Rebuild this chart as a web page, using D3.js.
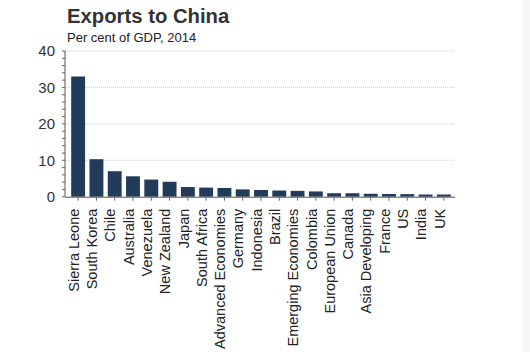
<!DOCTYPE html>
<html>
<head>
<meta charset="utf-8">
<script src="https://cdn.jsdelivr.net/npm/d3@7"></script>
<style>
  body { margin: 0; background: #fff; }
  svg { font-family: "Liberation Sans", Arial, sans-serif; }
</style>
</head>
<body>
<script>
const countries = ["Sierra Leone", "South Korea", "Chile", "Australia", "Venezuela", "New Zealand",
  "Japan", "South Africa", "Advanced Economies", "Germany", "Indonesia", "Brazil",
  "Emerging Economies", "Colombia", "European Union", "Canada", "Asia Developing",
  "France", "US", "India", "UK"];
const exportsPct = [33.0, 10.3, 7.0, 5.6, 4.7, 4.1, 2.65, 2.5, 2.4, 2.0, 1.85, 1.7,
  1.6, 1.45, 0.95, 0.95, 0.8, 0.75, 0.7, 0.6, 0.6];
const yTicks = [0, 10, 20, 30, 40];

const width = 530, height = 352;
const margin = { left: 65, top: 51, right: 75, bottom: 155 };

const svg = d3.select("body").append("svg")
  .attr("width", width)
  .attr("height", height);

// Light strip on the right edge
svg.append("rect")
  .attr("x", 523).attr("y", 0)
  .attr("width", 7).attr("height", height)
  .attr("fill", "#f6f6f6");

// Title and subtitle
svg.append("text")
  .attr("x", 67).attr("y", 23)
  .attr("font-size", 20.3).attr("font-weight", "bold")
  .attr("fill", "#333")
  .text("Exports to China");
svg.append("text")
  .attr("x", 67).attr("y", 42)
  .attr("font-size", 13)
  .attr("fill", "#222")
  .text("Per cent of GDP, 2014");

const x = d3.scaleBand()
  .domain(countries)
  .range([69, 453])
  .paddingInner(0.24)
  .paddingOuter(0.12);

const y = d3.scaleLinear()
  .domain([0, 40])
  .range([height - margin.bottom - 0.3, margin.top]);

// Dotted grid lines
svg.append("g")
  .selectAll("line")
  .data(yTicks.filter(d => d > 0))
  .enter().append("line")
  .attr("x1", margin.left).attr("x2", 455)
  .attr("y1", d => y(d)).attr("y2", d => y(d))
  .attr("stroke", "#ccc")
  .attr("stroke-width", 1)
  .attr("stroke-dasharray", "1,1");

// Bars
svg.append("g")
  .selectAll("rect")
  .data(countries)
  .enter().append("rect")
  .attr("x", d => x(d))
  .attr("width", x.bandwidth())
  .attr("y", (d, i) => y(exportsPct[i]))
  .attr("height", (d, i) => y(0) - y(exportsPct[i]))
  .attr("fill", "#223b5a");

// Y axis with minor ticks
const yAxis = svg.append("g")
  .attr("transform", `translate(${margin.left},0)`);
yAxis.append("line")
  .attr("y1", y(0)).attr("y2", y(40))
  .attr("stroke", "#555");
yAxis.selectAll(".minor")
  .data(d3.range(0, 41, 2))
  .enter().append("line")
  .attr("x1", -3).attr("x2", 0)
  .attr("y1", d => y(d)).attr("y2", d => y(d))
  .attr("stroke", "#666");
yAxis.selectAll(".lbl")
  .data(yTicks)
  .enter().append("text")
  .attr("x", -10)
  .attr("y", d => y(d))
  .attr("dy", "0.36em")
  .attr("text-anchor", "end")
  .attr("font-size", 15)
  .attr("fill", "#333")
  .text(d => d);

// X axis
const xAxis = svg.append("g")
  .attr("transform", `translate(0,${y(0)})`)
  .call(d3.axisBottom(x).tickSize(4).tickSizeOuter(0));
xAxis.select(".domain")
  .attr("stroke", "#555")
  .attr("d", `M${margin.left},0.5H455`);
xAxis.selectAll(".tick line").attr("stroke", "#666");
xAxis.selectAll(".tick text")
  .attr("font-family", "Liberation Sans, Arial, sans-serif")
  .attr("font-size", 14.5)
  .attr("fill", "#222")
  .attr("transform", "rotate(-90)")
  .attr("text-anchor", "end")
  .attr("x", -12)
  .attr("y", 0)
  .attr("dy", "0.05em");
</script>
</body>
</html>
